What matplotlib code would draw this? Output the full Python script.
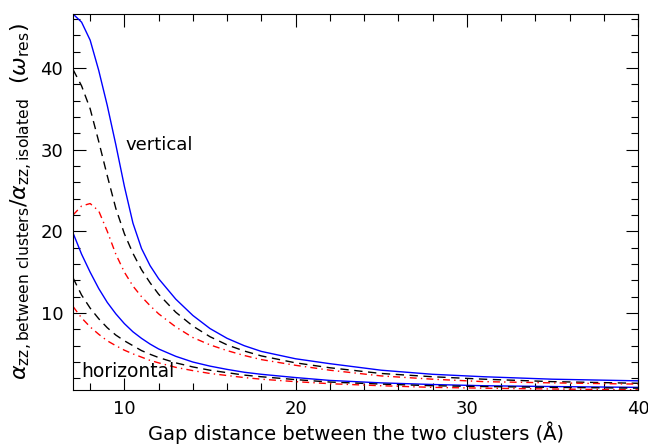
import matplotlib
matplotlib.use('Agg')
import matplotlib.pyplot as plt
from matplotlib.ticker import MultipleLocator

# gap distance (Angstrom)
gap = [7, 7.5, 8, 8.5, 9, 9.5, 10, 10.5, 11, 11.5, 12, 13, 14, 15, 16,
       17, 18, 20, 22, 25, 28, 31, 35, 40]

# vertical arrangement
vert_solid = [46.6, 45.6, 43.4, 39.7, 35.4, 30.6, 25.5, 21.0, 17.9, 15.8,
              14.2, 11.7, 9.7, 8.1, 6.9, 6.0, 5.3, 4.4, 3.8, 3.0, 2.5, 2.2,
              1.9, 1.7]
vert_dash = [39.8, 37.8, 35.0, 31.0, 26.8, 22.8, 19.7, 17.3, 15.3, 13.7,
             12.3, 10.1, 8.4, 7.1, 6.1, 5.35, 4.75, 3.9, 3.3, 2.6, 2.2, 1.9,
             1.6, 1.4]
vert_dashdot = [22.0, 23.1, 23.4, 22.5, 20.0, 17.2, 15.0, 13.3, 12.0, 10.9,
                9.9, 8.3, 7.0, 6.1, 5.4, 4.8, 4.3, 3.6, 3.0, 2.3, 1.9, 1.6,
                1.45, 1.3]

# horizontal arrangement
horiz_solid = [19.8, 17.2, 15.0, 13.0, 11.3, 9.9, 8.7, 7.7, 6.9, 6.2, 5.6,
               4.7, 4.0, 3.5, 3.1, 2.75, 2.5, 2.1, 1.75, 1.45, 1.25, 1.1,
               1.0, 0.9]
horiz_dash = [14.3, 12.2, 10.6, 9.3, 8.2, 7.3, 6.6, 6.0, 5.4, 4.95, 4.55,
              3.9, 3.4, 3.0, 2.7, 2.4, 2.2, 1.85, 1.55, 1.3, 1.1, 1.0, 0.9,
              0.8]
horiz_dashdot = [10.8, 9.4, 8.3, 7.4, 6.6, 6.0, 5.45, 5.0, 4.6, 4.2, 3.9,
                 3.35, 2.95, 2.6, 2.35, 2.1, 1.9, 1.6, 1.35, 1.1, 0.9, 0.8,
                 0.7, 0.6]

plt.rcParams['mathtext.fontset'] = 'dejavusans'
plt.rcParams['font.family'] = 'DejaVu Sans'

f = plt.figure(figsize=(6.48, 4.46), dpi=100)
ax = f.add_axes([0.1127, 0.1256, 0.8719, 0.8430])

dash = (0, (6, 4))
dashdot = (0, (5, 3, 1, 3))
for solid, dashed, dd in [(vert_solid, vert_dash, vert_dashdot),
                          (horiz_solid, horiz_dash, horiz_dashdot)]:
    ax.plot(gap, solid, color='#0000ff', lw=1.0)
    ax.plot(gap, dashed, color='black', lw=1.0, linestyle=dash)
    ax.plot(gap, dd, color='#ff0000', lw=1.0, linestyle=dashdot)

ax.text(10.05, 30.6, 'vertical', fontsize=13, va='center', ha='left')
ax.text(7.5, 2.8, 'horizontal', fontsize=13.5, va='center', ha='left')

ax.set_xlim(7, 40)
ax.set_ylim(0.58, 46.6)
ax.xaxis.set_major_locator(MultipleLocator(10))
ax.xaxis.set_minor_locator(MultipleLocator(2))
ax.yaxis.set_major_locator(MultipleLocator(10))
ax.yaxis.set_minor_locator(MultipleLocator(2))
ax.tick_params(which='both', direction='in', top=True, right=True,
               labelsize=13, width=0.8)
ax.tick_params(which='major', length=9, pad=7)
ax.tick_params(which='minor', length=5)
for s in ax.spines.values():
    s.set_linewidth(0.8)

ax.set_xlabel('Gap distance between the two clusters (Å)', fontsize=14,
              labelpad=3)
ax.set_ylabel(r'$\alpha_{\mathrm{zz,between\ clusters}}/'
              r'\alpha_{\mathrm{zz,isolated}}\ \ (\omega_{\mathrm{res}})$',
              fontsize=16, labelpad=4)

f.savefig('out.png', dpi=100)
plt.close(f)
